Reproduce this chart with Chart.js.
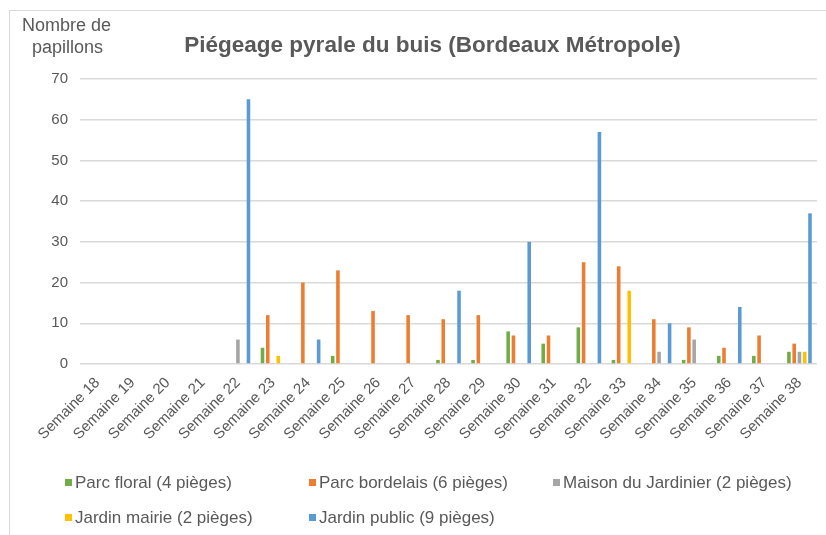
<!DOCTYPE html>
<html>
<head>
<meta charset="utf-8">
<script src="https://cdn.jsdelivr.net/npm/chart.js@4"></script>
<style>
  body { margin: 0; background: #fff; font-family: "Liberation Sans", Arial, sans-serif; }
  #wrap { position: relative; width: 826px; height: 535px; overflow: hidden; }
  #frame { position: absolute; left: 9px; top: 10px; width: 840px; height: 540px;
    border-left: 1px solid #d9d9d9; border-top: 1px solid #d9d9d9; }
  #chart { position: absolute; left: 0; top: 0; }
  #ylabel { position: absolute; left: 22px; top: 14px; color: #595959; font-size: 18px; line-height: 22px; }
  #title { position: absolute; left: 0; width: 865px; top: 32px; text-align: center;
    color: #595959; font-size: 22.5px; font-weight: bold; }
  #legend { position: absolute; left: 0; top: 473px; width: 826px; color: #595959; font-size: 17px; }
  .item { position: absolute; white-space: nowrap; }
  .box { display: inline-block; width: 7px; height: 7px; margin-right: 3px; vertical-align: 2px; }
</style>
</head>
<body>
<div id="wrap">
  <div id="frame"></div>
  <canvas id="chart" width="826" height="535"></canvas>
  <div id="ylabel">Nombre de<br>&nbsp;&nbsp;papillons</div>
  <div id="title">Piégeage pyrale du buis (Bordeaux Métropole)</div>
  <div id="legend"></div>
</div>
<script>
const weeks = ["Semaine 18", "Semaine 19", "Semaine 20", "Semaine 21", "Semaine 22", "Semaine 23",
  "Semaine 24", "Semaine 25", "Semaine 26", "Semaine 27", "Semaine 28", "Semaine 29", "Semaine 30",
  "Semaine 31", "Semaine 32", "Semaine 33", "Semaine 34", "Semaine 35", "Semaine 36", "Semaine 37", "Semaine 38"];

// semaines 18 .. 38
const parcFloral     = [0, 0, 0, 0, 0, 4, 0, 2, 0, 0, 1, 1, 8, 5, 9, 1, 0, 1, 2, 2, 3];
const parcBordelais  = [0, 0, 0, 0, 0, 12, 20, 23, 13, 12, 11, 12, 7, 7, 25, 24, 11, 9, 4, 7, 5];
const maisonJardin   = [0, 0, 0, 0, 6, 0, 0, 0, 0, 0, 0, 0, 0, 0, 0, 0, 3, 6, 0, 0, 3];
const jardinMairie   = [0, 0, 0, 0, 0, 2, 0, 0, 0, 0, 0, 0, 0, 0, 0, 18, 0, 0, 0, 0, 3];
const jardinPublic   = [0, 0, 0, 0, 65, 0, 6, 0, 0, 0, 18, 0, 30, 0, 57, 0, 10, 0, 14, 0, 37];

const seriesNames = ["Parc floral (4 pièges)", "Parc bordelais (6 pièges)", "Maison du Jardinier (2 pièges)",
  "Jardin mairie (2 pièges)", "Jardin public (9 pièges)"];
const yTicks = [0, 10, 20, 30, 40, 50, 60, 70];

const colors = ["#70ad47", "#ed7d31", "#a5a5a5", "#ffc000", "#5b9bd5"];
const allSeries = [parcFloral, parcBordelais, maisonJardin, jardinMairie, jardinPublic];

const datasets = allSeries.map((values, i) => ({
  label: seriesNames[i],
  data: values,
  backgroundColor: colors[i],
  borderWidth: 0,
  categoryPercentage: 0.75,
  barPercentage: 0.68
}));

const chart = new Chart(document.getElementById("chart"), {
  type: "bar",
  data: { labels: weeks, datasets: datasets },
  options: {
    responsive: false,
    animation: false,
    layout: { padding: { top: 79, left: 5, right: 9, bottom: 0 } },
    plugins: {
      legend: { display: false },
      tooltip: { enabled: false }
    },
    scales: {
      x: {
        grid: { display: false },
        border: { display: false },
        ticks: {
          color: "#595959",
          font: { family: "Liberation Sans", size: 15 },
          minRotation: 45,
          maxRotation: 45,
          autoSkip: false,
          padding: 2
        },
        afterFit: (s) => { s.height = 535 - 364; }
      },
      y: {
        min: 0,
        max: 70,
        afterBuildTicks: (s) => { s.ticks = yTicks.map((v) => ({ value: v })); },
        grid: { color: "#d9d9d9", lineWidth: 1.5, drawTicks: false },
        border: { display: false },
        ticks: {
          color: "#595959",
          font: { family: "Liberation Sans", size: 15 },
          padding: 12
        },
        afterFit: (s) => { s.width = 75; }
      }
    }
  }
});

// legend laid out like the original (2 rows, 3 columns)
const legendPos = [[65, 0], [309, 0], [553, 0], [65, 35], [309, 35]];
const legend = document.getElementById("legend");
chart.data.datasets.forEach((ds, i) => {
  const el = document.createElement("div");
  el.className = "item";
  el.style.left = legendPos[i][0] + "px";
  el.style.top = legendPos[i][1] + "px";
  el.innerHTML = `<span class="box" style="background:${ds.backgroundColor}"></span>${ds.label}`;
  legend.appendChild(el);
});
</script>
</body>
</html>
